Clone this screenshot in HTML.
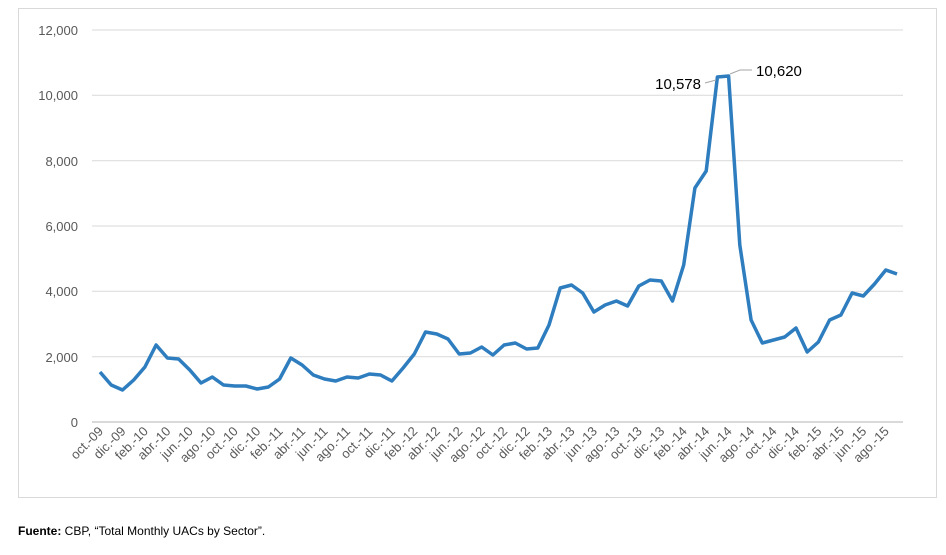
<!DOCTYPE html>
<html><head><meta charset="utf-8"><style>
body{margin:0;background:#fff;width:946px;height:550px;overflow:hidden;font-family:"Liberation Sans",sans-serif}
</style></head><body>
<svg width="946" height="550" xmlns="http://www.w3.org/2000/svg" font-family="Liberation Sans, sans-serif">
<rect x="18.5" y="8.5" width="918" height="489" fill="#fff" stroke="#d9d9d9"/>
<g stroke="#d9d9d9" stroke-width="1">
<line x1="92" x2="903" y1="30" y2="30"/><line x1="92" x2="903" y1="95.3" y2="95.3"/>
<line x1="92" x2="903" y1="160.7" y2="160.7"/><line x1="92" x2="903" y1="226" y2="226"/>
<line x1="92" x2="903" y1="291.3" y2="291.3"/><line x1="92" x2="903" y1="356.7" y2="356.7"/>
</g>
<line x1="92" x2="903" y1="422" y2="422" stroke="#d9d9d9" stroke-width="2"/>
<g font-size="13" fill="#595959" text-anchor="end">
<text x="78" y="35">12,000</text><text x="78" y="100">10,000</text><text x="78" y="166">8,000</text>
<text x="78" y="231">6,000</text><text x="78" y="296">4,000</text><text x="78" y="362">2,000</text><text x="78" y="427">0</text>
</g>
<polyline fill="none" stroke="#2e7dbf" stroke-width="3.5" stroke-linejoin="round" points="100,372 111.2,385 122.5,390 133.7,380 144.9,367 156.1,345 167.4,358 178.6,359 189.8,370 201,383 212.3,377 223.5,385 234.7,386 245.9,386 257.2,389 268.4,387 279.6,379 290.8,358 302.1,365 313.3,375 324.5,379 335.7,381 347,377 358.2,378 369.4,374 380.6,375 391.9,381 403.1,368 414.3,354 425.5,332 436.8,334 448,339 459.2,354 470.4,353 481.7,347 492.9,355 504.1,345 515.3,343 526.6,349 537.8,348 549,325 560.2,288 571.5,285 582.7,293 593.9,312 605.1,305 616.4,301 627.6,306 638.8,286 650,280 661.3,281 672.5,301 683.7,265 694.9,188 706.2,171 717.4,77 728.6,76 739.8,245 751.1,320 762.3,343 773.5,340 784.7,337 796,328 807.2,352 818.4,342 829.6,320 840.9,315 852.1,293 863.3,296 874.5,284 885.8,270 897,274"/>
<polyline fill="none" stroke="#a6a6a6" stroke-width="1" points="705,83 716,80"/>
<polyline fill="none" stroke="#a6a6a6" stroke-width="1" points="730,74 740,70 752,70"/>
<g font-size="15" fill="#000">
<text x="701" y="89" text-anchor="end">10,578</text>
<text x="756" y="76">10,620</text>
</g>
<g font-size="13" fill="#595959" text-anchor="end">
<text transform="translate(104,432) rotate(-45)">oct.-09</text>
<text transform="translate(126.5,432) rotate(-45)">dic.-09</text>
<text transform="translate(148.9,432) rotate(-45)">feb.-10</text>
<text transform="translate(171.4,432) rotate(-45)">abr.-10</text>
<text transform="translate(193.8,432) rotate(-45)">jun.-10</text>
<text transform="translate(216.3,432) rotate(-45)">ago.-10</text>
<text transform="translate(238.7,432) rotate(-45)">oct.-10</text>
<text transform="translate(261.2,432) rotate(-45)">dic.-10</text>
<text transform="translate(283.6,432) rotate(-45)">feb.-11</text>
<text transform="translate(306.1,432) rotate(-45)">abr.-11</text>
<text transform="translate(328.5,432) rotate(-45)">jun.-11</text>
<text transform="translate(351,432) rotate(-45)">ago.-11</text>
<text transform="translate(373.4,432) rotate(-45)">oct.-11</text>
<text transform="translate(395.9,432) rotate(-45)">dic.-11</text>
<text transform="translate(418.3,432) rotate(-45)">feb.-12</text>
<text transform="translate(440.8,432) rotate(-45)">abr.-12</text>
<text transform="translate(463.2,432) rotate(-45)">jun.-12</text>
<text transform="translate(485.7,432) rotate(-45)">ago.-12</text>
<text transform="translate(508.1,432) rotate(-45)">oct.-12</text>
<text transform="translate(530.6,432) rotate(-45)">dic.-12</text>
<text transform="translate(553,432) rotate(-45)">feb.-13</text>
<text transform="translate(575.5,432) rotate(-45)">abr.-13</text>
<text transform="translate(597.9,432) rotate(-45)">jun.-13</text>
<text transform="translate(620.4,432) rotate(-45)">ago.-13</text>
<text transform="translate(642.8,432) rotate(-45)">oct.-13</text>
<text transform="translate(665.3,432) rotate(-45)">dic.-13</text>
<text transform="translate(687.7,432) rotate(-45)">feb.-14</text>
<text transform="translate(710.2,432) rotate(-45)">abr.-14</text>
<text transform="translate(732.6,432) rotate(-45)">jun.-14</text>
<text transform="translate(755.1,432) rotate(-45)">ago.-14</text>
<text transform="translate(777.5,432) rotate(-45)">oct.-14</text>
<text transform="translate(800,432) rotate(-45)">dic.-14</text>
<text transform="translate(822.4,432) rotate(-45)">feb.-15</text>
<text transform="translate(844.9,432) rotate(-45)">abr.-15</text>
<text transform="translate(867.3,432) rotate(-45)">jun.-15</text>
<text transform="translate(889.8,432) rotate(-45)">ago.-15</text>
</g>
<text x="18" y="535" font-size="12" fill="#000"><tspan font-weight="bold">Fuente:</tspan> CBP, “Total Monthly UACs by Sector”.</text>
</svg>
</body></html>
